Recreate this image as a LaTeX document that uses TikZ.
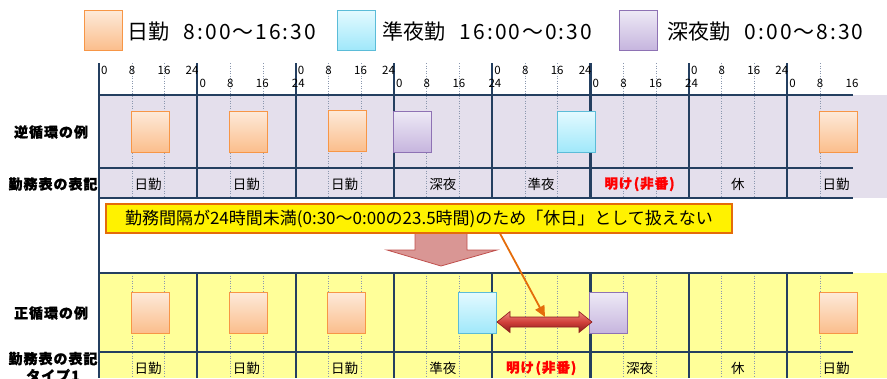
\documentclass[tikz,border=0pt]{standalone}
\usepackage{fontspec}
\setmainfont{Noto Sans CJK JP}
\newfontfamily\legdig{Noto Sans CJK JP}[LetterSpace=9.5]
\newfontfamily\heavyjp{Noto Sans CJK JP}[FakeBold=1.2, LetterSpace=7]
\usetikzlibrary{arrows.meta}
\definecolor{gridc}{HTML}{243F60}
\definecolor{dotc}{HTML}{8A97AE}
\definecolor{bandP}{HTML}{E4DFEC}
\definecolor{bandY}{HTML}{FFFF99}
\definecolor{dayT}{HTML}{FDEADA}
\definecolor{dayB}{HTML}{FBBE8C}
\definecolor{dayE}{HTML}{F79646}
\definecolor{eveT}{HTML}{E4FAFF}
\definecolor{eveB}{HTML}{A0E8FA}
\definecolor{eveE}{HTML}{5BBCD8}
\definecolor{ngtT}{HTML}{EEEAF6}
\definecolor{ngtB}{HTML}{C6B5DE}
\definecolor{ngtE}{HTML}{8E72B4}
\definecolor{noteE}{HTML}{E46C0A}
\definecolor{bigA}{HTML}{D99694}
\definecolor{bigE}{HTML}{C0504D}
\definecolor{redT}{HTML}{F08A80}
\definecolor{redM}{HTML}{D0403A}
\definecolor{redB}{HTML}{8C1C1C}
\begin{document}
\begin{tikzpicture}[x=1pt,y=-1pt,
  shiftbox/.style={minimum width=38pt, minimum height=41pt, inner sep=0pt, line width=1pt},
  dayS/.style={shiftbox, draw=dayE, top color=dayT, bottom color=dayB},
  eveS/.style={shiftbox, draw=eveE, top color=eveT, bottom color=eveB},
  ngtS/.style={shiftbox, draw=ngtE, top color=ngtT, bottom color=ngtB},
  gridline/.style={draw=gridc, line width=2.2pt},
  dotline/.style={draw=dotc, line width=0.6pt, dash pattern=on 1pt off 1.5pt},
  axisnum/.style={font=\fontsize{11.5}{11.5}\selectfont, inner sep=0pt},
  cell/.style={font=\fontsize{13.5}{14}\selectfont, inner sep=0pt},
  offcell/.style={inner sep=0pt, text=red, font=\fontsize{13.5}{14}\selectfont\heavyjp\bfseries},
  rowlab/.style={font=\fontsize{14}{17}\selectfont\heavyjp\bfseries, inner sep=0pt, align=center},
  legtext/.style={anchor=west, font=\fontsize{21}{22}\selectfont, inner sep=0pt}
]
\useasboundingbox (0,0) rectangle (887,378);
% bands
\fill[bandP] (99,95) rectangle (887,198);
\fill[bandY] (99,273) rectangle (887,378);
% dotted hour lines
\foreach \i in {0,...,6} {
  \foreach \h in {32.8,65.5} {
    \draw[dotline] ({99+98.3*\i+\h},63) -- ({99+98.3*\i+\h},198);
    \draw[dotline] ({99+98.3*\i+\h},273) -- ({99+98.3*\i+\h},378);
  }
}
\draw[dotline] ({99+98.3*7+32.8},63) -- ({99+98.3*7+32.8},198);
\draw[dotline] ({99+98.3*7+32.8},273) -- ({99+98.3*7+32.8},378);
% major lines
\draw[gridline] (99,63) -- (99,378);
\foreach \i in {1,...,7} {
  \draw[gridline] ({99+98.3*\i},63) -- ({99+98.3*\i},198);
  \draw[gridline] ({99+98.3*\i},273) -- ({99+98.3*\i},378);
}
\foreach \yy in {95,168,198,273,352} \draw[gridline] (99,\yy) -- (853,\yy);
% axis labels
\foreach \i in {0,2,4,6} {
  \node[axisnum, anchor=west] (ax\i a) at ({99+98.3*\i+2},70) {0};
  \node[axisnum] (ax\i b) at ({99+98.3*\i+33},70) {8};
  \node[axisnum] (ax\i c) at ({99+98.3*\i+65},70) {16};
  \node[axisnum] (ax\i d) at ({99+98.3*\i+93},70) {24};
}
\foreach \i in {1,3,5} {
  \node[axisnum, anchor=west] (ax\i a) at ({99+98.3*\i+2},83) {0};
  \node[axisnum] (ax\i b) at ({99+98.3*\i+33},83) {8};
  \node[axisnum] (ax\i c) at ({99+98.3*\i+65},83) {16};
  \node[axisnum] (ax\i d) at ({99+98.3*\i+101},83) {24};
}
\node[axisnum, anchor=west] (ax7a) at ({99+98.3*7+2},83) {0};
\node[axisnum] (ax7b) at ({99+98.3*7+33},83) {8};
\node[axisnum] (ax7c) at ({99+98.3*7+65},83) {16};
% legend
\node[dayS, minimum height=40pt] (k1) at (103,30) {};
\node[legtext] (k1t) at (127,32) {日勤\hspace{0.7em}{\legdig 8:00〜16:30}};
\node[eveS, minimum height=40pt] (k2) at (356,30) {};
\node[legtext] (k2t) at (382,32) {準夜勤\hspace{0.7em}{\legdig 16:00〜0:30}};
\node[ngtS, minimum height=40pt] (k3) at (638,30) {};
\node[legtext] (k3t) at (667,32) {深夜勤\hspace{0.7em}{\legdig 0:00〜8:30}};
% row labels
\node[rowlab] (r1) at (51,132) {逆循環の例};
\node[rowlab] (r2) at (53,184) {勤務表の表記};
\node[rowlab] (r3) at (51,313) {正循環の例};
\node[rowlab] (r4) at (53,367) {勤務表の表記\\タイプ1};
% upper shifts
\node[dayS] (u1) at (150,131.5) {};
\node[dayS] (u2) at (248,131.5) {};
\node[dayS] (u3) at (347,130.5) {};
\node[ngtS] (u4) at (412,131.5) {};
\node[eveS] (u5) at (576,131.5) {};
\node[dayS] (u6) at (838.5,131.5) {};
% lower shifts
\node[dayS] (l1) at (150,312.5) {};
\node[dayS] (l2) at (248,312.5) {};
\node[dayS] (l3) at (346,312.5) {};
\node[eveS] (l4) at (477.5,312.5) {};
\node[ngtS] (l5) at (608.5,312.5) {};
\node[dayS] (l6) at (838.5,312.5) {};
% cell labels
\foreach \t [count=\k from 0] in {日勤,日勤,日勤,深夜,準夜,,休,日勤}
  \node[cell] (uc\k) at ({148+98.3*\k},184) {\t};
\node[offcell] (uc5r) at ({148+98.3*5},184) {明け\hspace{1.5pt}(\hspace{1pt}非番\hspace{1pt})};
\foreach \t [count=\k from 0] in {日勤,日勤,日勤,準夜,,深夜,休,日勤}
  \node[cell] (lc\k) at ({148+98.3*\k},368) {\t};
\node[offcell] (lc4r) at ({148+98.3*4},368) {明け\hspace{1.5pt}(\hspace{1pt}非番\hspace{1pt})};
% big down arrow
\draw[fill=bigA, draw=bigE, line width=0.8pt] (415,230) -- (467,230) -- (467,250) -- (497,250) -- (441,266) -- (387,250) -- (415,250) -- cycle;
% callout
\node[draw=noteE, line width=2pt, fill=yellow, minimum width=626pt, minimum height=29pt, inner sep=0pt, font=\fontsize{17}{18}\selectfont] (note) at (419,218.5) {勤務間隔が24時間未満(0:30〜0:00の23.5時間)のため「休日」として扱えない};
% red double arrow
\draw[draw=redB, line width=0.6pt, top color=redT, bottom color=redB, middle color=redM]
  (497,322) -- (510,311.5) -- (510,317) -- (579,317) -- (579,311.5) -- (592,322)
  -- (579,332.5) -- (579,327) -- (510,327) -- (510,332.5) -- cycle;
% orange pointer
\coordinate (cp) at (500,233.5);
\coordinate (tipc) at (545,317);
\draw[noteE, line width=1.8pt, -{Triangle[length=11pt,width=10pt]}] (cp) -- (tipc);
\end{tikzpicture}
\end{document}
